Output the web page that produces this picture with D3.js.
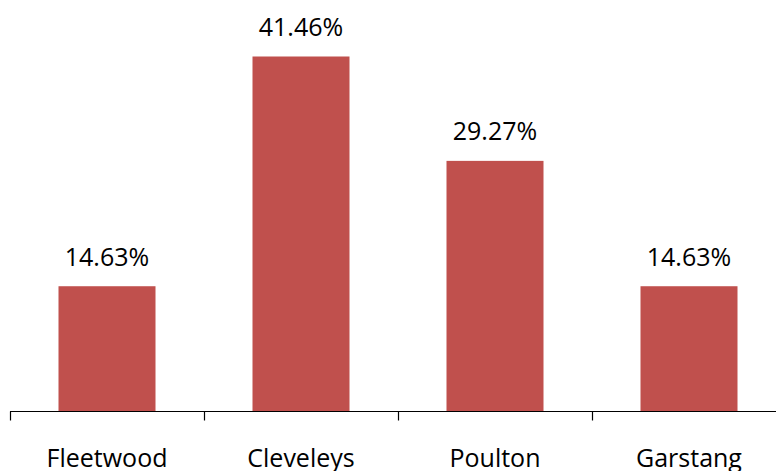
<!DOCTYPE html>
<html>
<head>
<script src="https://d3js.org/d3.v7.min.js"></script>
<style>
body { margin: 0; background: white; }
text { font-family: "Open Sans", sans-serif; }
</style>
</head>
<body>
<script>
var categories = ["Fleetwood", "Cleveleys", "Poulton", "Garstang"];
var values = [14.63, 41.46, 29.27, 14.63];

var width = 776, height = 471;
var svg = d3.select("body").append("svg")
  .attr("width", width)
  .attr("height", height);

// band axis runs off the right edge, like the original
var x = d3.scaleBand()
  .domain(categories)
  .range([10, 786])
  .paddingInner(0.5)
  .paddingOuter(0.25);

var y = d3.scaleLinear()
  .domain([0, 48])
  .range([411.5, 0.5]);

svg.selectAll("rect.bar")
  .data(values)
  .enter()
  .append("rect")
  .attr("class", "bar")
  .attr("x", function(d, i) { return x(categories[i]); })
  .attr("y", function(d) { return y(d); })
  .attr("width", x.bandwidth())
  .attr("height", function(d) { return y(0) - y(d); })
  .attr("fill", "#c0504d");

svg.selectAll("text.val")
  .data(values)
  .enter()
  .append("text")
  .attr("class", "val")
  .attr("x", function(d, i) { return x(categories[i]) + x.bandwidth() / 2; })
  .attr("y", function(d) { return y(d) - 20.5; })
  .attr("text-anchor", "middle")
  .attr("font-size", 25)
  .attr("fill", "#000")
  .text(function(d) { return d.toFixed(2) + "%"; });

// axis line and tick marks between categories
var step = x.step();
var axis = svg.append("g");
axis.append("line")
  .attr("x1", 10).attr("x2", width)
  .attr("y1", 411.5).attr("y2", 411.5)
  .attr("stroke", "#000").attr("stroke-width", 1.2);
axis.selectAll("line.tick")
  .data(d3.range(categories.length + 1))
  .enter()
  .append("line")
  .attr("class", "tick")
  .attr("x1", function(i) { return 10.5 + i * step; })
  .attr("x2", function(i) { return 10.5 + i * step; })
  .attr("y1", 411.5).attr("y2", 420.5)
  .attr("stroke", "#000").attr("stroke-width", 1.2);

svg.selectAll("text.cat")
  .data(categories)
  .enter()
  .append("text")
  .attr("class", "cat")
  .attr("x", function(d) { return x(d) + x.bandwidth() / 2; })
  .attr("y", 467)
  .attr("text-anchor", "middle")
  .attr("font-size", 25)
  .attr("fill", "#000")
  .text(function(d) { return d; });
</script>
</body>
</html>
